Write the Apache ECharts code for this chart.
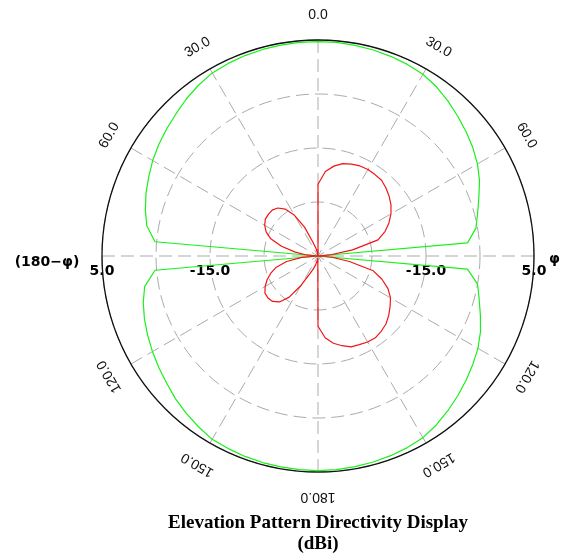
<!DOCTYPE html>
<html>
<head>
<meta charset="utf-8">
<script src="https://cdn.jsdelivr.net/npm/echarts@6/dist/echarts.min.js"></script>
<style>
  html, body { margin: 0; padding: 0; background: #fff; }
  #chart { width: 563px; height: 554px; }
</style>
</head>
<body>
<div id="chart"></div>
<script>
// angles (deg, clockwise from top), one sample every 5 degrees
const angles = [];
for (let a = 0; a <= 360; a += 5) angles.push(a);

// gain in dBi
const greenGain = [
  4.7, 4.7, 4.6, 4.5, 4.35, 4.15, 3.85, 3.25, 2.45, 1.6, 0.8, 0.0, -0.9, -2.0, -3.3, -4.4, -5.3, -7.2, -35,
  -7.2, -5.0, -4.1, -3.0, -1.8, -0.8, 0.0, 0.8, 1.6, 2.4, 3.2, 3.85, 4.15, 4.35, 4.5, 4.6, 4.7, 4.75,
  4.7, 4.65, 4.6, 4.5, 4.35, 4.2, 3.6, 3.0, 2.35, 1.6, 1.0, 0.4, -0.2, -0.8, -1.5, -2.4, -4.7, -35,
  -4.7, -2.8, -1.9, -1.1, -0.4, 0.35, 1.0, 1.6, 2.2, 2.95, 3.6, 4.15, 4.35, 4.5, 4.6, 4.65, 4.7, 4.7
];
const redGain = [
  -21.7, -19.3, -18.1, -17.3, -16.9, -16.6, -16.5, -16.6, -16.7, -17.2, -17.8, -18.5, -19.4, -20.5, -21.8, -23.5, -28.5, -32.8, -35,
  -32.4, -29.1, -24.4, -22.4, -20.7, -19.5, -18.7, -17.9, -17.2, -16.8, -16.5, -16.6, -16.9, -17.1, -17.8, -18.6, -19.8, -22.0,
  -34.6, -34.1, -33.3, -32.4, -31.3, -28.7, -25.7, -23.9, -23.1, -22.9, -23.0, -23.7, -24.6, -25.7, -27.0, -29.1, -32.0, -35,
  -32.8, -30.6, -28.0, -25.7, -24.4, -23.6, -23.1, -23.0, -23.0, -23.4, -24.4, -26.3, -29.1, -32.4, -33.5, -34.4, -35, -21.7
];

// tick labels
const angleTicks = [0, 30, 60, 120, 150, 180, 210, 240, 300, 330];
const angleTickText = ['0.0', '30.0', '60.0', '120.0', '150.0', '180.0', '150.0', '120.0', '60.0', '30.0'];
const radiusTicks = [5, -15];
const radiusTickText = ['5.0', '-15.0'];

const gridLine = { color: '#ababab', width: 1, type: [13, 6] };

const chart = echarts.init(document.getElementById('chart'));
chart.setOption({
  animation: false,
  backgroundColor: '#fff',
  polar: { center: [318, 256], radius: [0, 216] },
  angleAxis: {
    type: 'value', min: 0, max: 360, interval: 30,
    startAngle: 90, clockwise: true,
    axisLine: { lineStyle: { color: '#111', width: 1.3 } },
    axisTick: { show: false },
    axisLabel: { show: false },
    splitLine: { show: true, lineStyle: gridLine }
  },
  radiusAxis: {
    min: -35, max: 5, interval: 10,
    axisLine: { show: false },
    axisTick: { show: false },
    axisLabel: { show: false },
    splitLine: { show: true, lineStyle: gridLine }
  },
  series: [
    {
      type: 'line', coordinateSystem: 'polar', showSymbol: false, silent: true,
      lineStyle: { color: '#19f019', width: 1.2 },
      data: angles.map((a, i) => [greenGain[i], a])
    },
    {
      type: 'line', coordinateSystem: 'polar', showSymbol: false, silent: true,
      lineStyle: { color: '#f01414', width: 1.2 },
      data: angles.map((a, i) => [redGain[i], a])
    }
  ]
});

// labels placed with the chart's own polar scale
const ctr = chart.convertToPixel({ seriesIndex: 0 }, [-35, 0]);
const graphics = [];
angleTicks.forEach((a, i) => {
  const p = chart.convertToPixel({ seriesIndex: 0 }, [5, a]);
  const k = 241 / 216;
  graphics.push({
    type: 'text',
    x: ctr[0] + (p[0] - ctr[0]) * k,
    y: ctr[1] + (p[1] - ctr[1]) * k,
    rotation: -a * Math.PI / 180,
    style: {
      text: angleTickText[i], fill: '#111',
      font: '14px "Liberation Sans", Arial, sans-serif',
      textAlign: 'center', textVerticalAlign: 'middle'
    }
  });
});
[90, 270].forEach(a => {
  radiusTicks.forEach((r, i) => {
    const p = chart.convertToPixel({ seriesIndex: 0 }, [r, a]);
    graphics.push({
      type: 'text', x: p[0], y: p[1] + 15,
      style: {
        text: radiusTickText[i], fill: '#000',
        font: 'bold 14px "DejaVu Sans", Verdana, sans-serif',
        textAlign: 'center', textVerticalAlign: 'middle'
      }
    });
  });
});
graphics.push(
  { type: 'text', x: 47, y: 262, style: { text: '(180\u2212\u03c6)', fill: '#000', font: 'bold 14px "DejaVu Sans", sans-serif', textAlign: 'center', textVerticalAlign: 'middle' } },
  { type: 'text', x: 549, y: 259, style: { text: '\u03c6', fill: '#000', font: 'bold 14px "DejaVu Sans", sans-serif', textAlign: 'left', textVerticalAlign: 'middle' } },
  { type: 'text', x: 318, y: 523, style: { text: 'Elevation Pattern Directivity Display', fill: '#000', font: 'bold 19px "Liberation Serif", "Times New Roman", serif', textAlign: 'center', textVerticalAlign: 'middle' } },
  { type: 'text', x: 318, y: 544, style: { text: '(dBi)', fill: '#000', font: 'bold 19px "Liberation Serif", "Times New Roman", serif', textAlign: 'center', textVerticalAlign: 'middle' } }
);
chart.setOption({ graphic: graphics });
</script>
</body>
</html>
